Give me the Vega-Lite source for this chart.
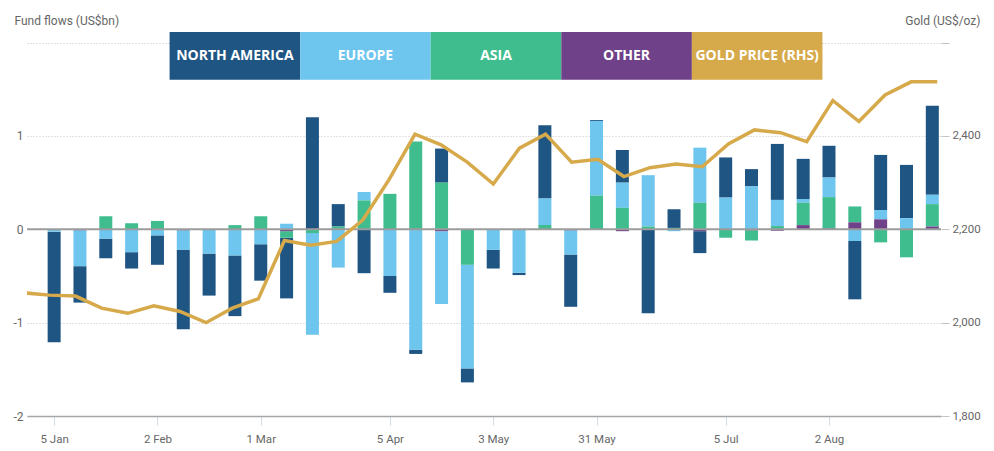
{
  "$schema": "https://vega.github.io/schema/vega-lite/v6.json",
  "width": 914,
  "height": 384,
  "autosize": {"type": "none"},
  "padding": {"left": 27, "top": 32, "right": 53, "bottom": 35},
  "background": "white",
  "config": {
    "view": {"stroke": null},
    "font": "Roboto, Liberation Sans, sans-serif"
  },
  "datasets": {
    "legend": [
      {"key": "na", "label": "NORTH AMERICA", "idx": 1},
      {"key": "eu", "label": "EUROPE", "idx": 2},
      {"key": "asia", "label": "ASIA", "idx": 3},
      {"key": "other", "label": "OTHER", "idx": 4},
      {"key": "gold", "label": "GOLD PRICE (RHS)", "idx": 5}
    ],
    "flows": [
      {"week": "2024-01-05", "na": -1.185, "eu": -0.025, "asia": 0, "other": 0},
      {"week": "2024-01-12", "na": -0.39, "eu": -0.385, "asia": 0, "other": -0.01},
      {"week": "2024-01-19", "na": -0.21, "eu": -0.1, "asia": 0.14, "other": 0},
      {"week": "2024-01-26", "na": -0.175, "eu": -0.245, "asia": 0.065, "other": 0},
      {"week": "2024-02-02", "na": -0.315, "eu": -0.065, "asia": 0.09, "other": 0},
      {"week": "2024-02-09", "na": -0.85, "eu": -0.21, "asia": 0, "other": -0.01},
      {"week": "2024-02-16", "na": -0.45, "eu": -0.26, "asia": 0, "other": 0},
      {"week": "2024-02-23", "na": -0.65, "eu": -0.28, "asia": 0.045, "other": 0},
      {"week": "2024-03-01", "na": -0.39, "eu": -0.16, "asia": 0.14, "other": 0},
      {"week": "2024-03-08", "na": -0.65, "eu": 0.06, "asia": -0.07, "other": -0.02},
      {"week": "2024-03-15", "na": 1.2, "eu": -1.09, "asia": -0.04, "other": 0},
      {"week": "2024-03-22", "na": 0.24, "eu": -0.41, "asia": 0.03, "other": 0},
      {"week": "2024-03-29", "na": -0.47, "eu": 0.09, "asia": 0.31, "other": 0},
      {"week": "2024-04-05", "na": -0.18, "eu": -0.5, "asia": 0.38, "other": 0},
      {"week": "2024-04-12", "na": -0.045, "eu": -1.29, "asia": 0.94, "other": 0},
      {"week": "2024-04-19", "na": 0.365, "eu": -0.78, "asia": 0.5, "other": -0.02},
      {"week": "2024-04-26", "na": -0.15, "eu": -1.11, "asia": -0.38, "other": 0},
      {"week": "2024-05-03", "na": -0.2, "eu": -0.22, "asia": 0, "other": 0},
      {"week": "2024-05-10", "na": -0.025, "eu": -0.465, "asia": 0, "other": 0},
      {"week": "2024-05-17", "na": 0.785, "eu": 0.285, "asia": 0.045, "other": 0},
      {"week": "2024-05-24", "na": -0.56, "eu": -0.26, "asia": 0, "other": -0.01},
      {"week": "2024-05-31", "na": 0.01, "eu": 0.8, "asia": 0.36, "other": 0},
      {"week": "2024-06-07", "na": 0.35, "eu": 0.27, "asia": 0.23, "other": -0.02},
      {"week": "2024-06-14", "na": -0.9, "eu": 0.55, "asia": 0.03, "other": 0},
      {"week": "2024-06-21", "na": 0.2, "eu": -0.02, "asia": 0.015, "other": 0},
      {"week": "2024-06-28", "na": -0.235, "eu": 0.59, "asia": 0.285, "other": -0.02},
      {"week": "2024-07-05", "na": 0.43, "eu": 0.34, "asia": -0.09, "other": 0},
      {"week": "2024-07-12", "na": 0.185, "eu": 0.46, "asia": -0.11, "other": -0.01},
      {"week": "2024-07-19", "na": 0.6, "eu": 0.28, "asia": 0.035, "other": -0.015},
      {"week": "2024-07-26", "na": 0.43, "eu": 0.04, "asia": 0.24, "other": 0.045},
      {"week": "2024-08-02", "na": 0.34, "eu": 0.21, "asia": 0.335, "other": 0.01},
      {"week": "2024-08-09", "na": -0.625, "eu": -0.125, "asia": 0.17, "other": 0.075},
      {"week": "2024-08-16", "na": 0.59, "eu": 0.1, "asia": -0.14, "other": 0.107},
      {"week": "2024-08-23", "na": 0.57, "eu": 0.12, "asia": -0.3, "other": 0},
      {"week": "2024-08-30", "na": 0.955, "eu": 0.1, "asia": 0.24, "other": 0.03}
    ],
    "gold": [
      {"week": "2023-12-29", "gold": 2064},
      {"week": "2024-01-05", "gold": 2059},
      {"week": "2024-01-12", "gold": 2057},
      {"week": "2024-01-19", "gold": 2031},
      {"week": "2024-01-26", "gold": 2020},
      {"week": "2024-02-02", "gold": 2036},
      {"week": "2024-02-09", "gold": 2024},
      {"week": "2024-02-16", "gold": 2000},
      {"week": "2024-02-23", "gold": 2031},
      {"week": "2024-03-01", "gold": 2051},
      {"week": "2024-03-08", "gold": 2176},
      {"week": "2024-03-15", "gold": 2166},
      {"week": "2024-03-22", "gold": 2174},
      {"week": "2024-03-29", "gold": 2220},
      {"week": "2024-04-05", "gold": 2306},
      {"week": "2024-04-12", "gold": 2404},
      {"week": "2024-04-19", "gold": 2381},
      {"week": "2024-04-26", "gold": 2344},
      {"week": "2024-05-03", "gold": 2297},
      {"week": "2024-05-10", "gold": 2374},
      {"week": "2024-05-17", "gold": 2404},
      {"week": "2024-05-24", "gold": 2344},
      {"week": "2024-05-31", "gold": 2350},
      {"week": "2024-06-07", "gold": 2313},
      {"week": "2024-06-14", "gold": 2332},
      {"week": "2024-06-21", "gold": 2340},
      {"week": "2024-06-28", "gold": 2334},
      {"week": "2024-07-05", "gold": 2383},
      {"week": "2024-07-12", "gold": 2413},
      {"week": "2024-07-19", "gold": 2407},
      {"week": "2024-07-26", "gold": 2388},
      {"week": "2024-08-02", "gold": 2476},
      {"week": "2024-08-09", "gold": 2431},
      {"week": "2024-08-16", "gold": 2488},
      {"week": "2024-08-23", "gold": 2516},
      {"week": "2024-08-30", "gold": 2516}
    ]
  },
  "layer": [
    {
      "data": {"name": "flows"},
      "transform": [
        {"fold": ["na", "eu", "asia", "other"], "as": ["key", "value"]},
        {"lookup": "key", "from": {"data": {"name": "legend"}, "key": "key", "fields": ["idx"]}}
      ],
      "mark": {"type": "bar", "size": 13},
      "encoding": {
        "x": {
          "field": "week",
          "type": "temporal",
          "scale": {
            "type": "utc",
            "domain": [
              {"year": 2023, "month": 12, "date": 30, "utc": true},
              {"year": 2024, "month": 8, "date": 31, "utc": true}
            ]
          },
          "axis": {
            "title": null,
            "values": [
              {"year": 2024, "month": 1, "date": 5, "utc": true},
              {"year": 2024, "month": 2, "date": 2, "utc": true},
              {"year": 2024, "month": 3, "date": 1, "utc": true},
              {"year": 2024, "month": 4, "date": 5, "utc": true},
              {"year": 2024, "month": 5, "date": 3, "utc": true},
              {"year": 2024, "month": 5, "date": 31, "utc": true},
              {"year": 2024, "month": 7, "date": 5, "utc": true},
              {"year": 2024, "month": 8, "date": 2, "utc": true}
            ],
            "format": "%-d %b",
            "grid": false,
            "labelColor": "#666666",
            "labelFontSize": 11.5,
            "labelPadding": 8,
            "labelFlush": false,
            "tickColor": "#d3dbe4",
            "tickSize": 9,
            "domainColor": "#a6a6a6",
            "domainWidth": 1.5
          }
        },
        "y": {
          "field": "value",
          "type": "quantitative",
          "stack": "zero",
          "scale": {"domain": [-2, 2.114], "nice": false, "zero": false},
          "axis": {
            "values": [-2, -1, 0, 1, 2],
            "labelExpr": "datum.value == 2 ? '' : '' + datum.value",
            "title": "Fund flows (US$bn)",
            "titleAngle": 0,
            "titleAlign": "left",
            "titleBaseline": "middle",
            "titleX": -13,
            "titleY": -12,
            "titleFontWeight": "normal",
            "titleFontSize": 12,
            "titleColor": "#666666",
            "labelColor": "#666666",
            "labelFontSize": 12,
            "labelPadding": 4,
            "ticks": false,
            "domain": false,
            "grid": true,
            "gridColor": "#c4c4c4",
            "gridDash": [1, 2]
          }
        },
        "color": {
          "field": "key",
          "type": "nominal",
          "scale": {
            "domain": ["na", "eu", "asia", "other", "gold"],
            "range": ["#1f5583", "#6ec5ee", "#40bd8f", "#6e4189", "#d6a94b"]
          },
          "legend": null
        },
        "order": {"field": "idx", "sort": "descending"}
      }
    },
    {
      "data": {"values": [{}]},
      "mark": {"type": "rule", "color": "#9c9c9c", "strokeWidth": 2},
      "encoding": {
        "y": {"datum": 0, "type": "quantitative", "scale": {"domain": [-2, 2.114], "nice": false, "zero": false}, "axis": null}
      }
    },
    {
      "data": {"name": "gold"},
      "mark": {"type": "line", "color": "#d6a94b", "strokeWidth": 3.5, "clip": true},
      "encoding": {
        "x": {
          "field": "week",
          "type": "temporal",
          "scale": {
            "type": "utc",
            "domain": [
              {"year": 2023, "month": 12, "date": 30, "utc": true},
              {"year": 2024, "month": 8, "date": 31, "utc": true}
            ]
          },
          "axis": null
        },
        "y": {
          "field": "gold",
          "type": "quantitative",
          "scale": {"domain": [1800, 2622.8], "nice": false, "zero": false},
          "axis": {
            "orient": "right",
            "values": [1800, 2000, 2200, 2400, 2600],
            "labelExpr": "datum.value == 2600 ? '' : format(datum.value, ',')",
            "title": "Gold (US$/oz)",
            "titleAngle": 0,
            "titleAlign": "right",
            "titleBaseline": "middle",
            "titleX": 39,
            "titleY": -12,
            "titleFontWeight": "normal",
            "titleFontSize": 12,
            "titleColor": "#666666",
            "labelColor": "#666666",
            "labelFontSize": 11.5,
            "labelPadding": 3,
            "ticks": true,
            "tickSize": 8,
            "tickColor": "#c4c4c4",
            "domain": false,
            "grid": false
          }
        }
      }
    },
    {
      "data": {"name": "legend"},
      "encoding": {
        "x": {
          "field": "label",
          "type": "nominal",
          "sort": {"field": "idx", "op": "min"},
          "scale": {"type": "band", "paddingInner": 0, "paddingOuter": 1.0045, "align": 0.546},
          "axis": null
        }
      },
      "layer": [
        {
          "mark": {"type": "rect"},
          "encoding": {
            "y": {"datum": 2.114, "type": "quantitative", "scale": {"domain": [-2, 2.114], "nice": false, "zero": false}, "axis": null},
            "y2": {"datum": 1.603},
            "color": {"field": "key", "type": "nominal", "legend": null}
          }
        },
        {
          "mark": {"type": "text", "color": "white", "font": "Open Sans", "fontWeight": "bold", "fontSize": 14, "baseline": "middle", "align": "center"},
          "encoding": {
            "y": {"datum": 1.857, "type": "quantitative"},
            "text": {"field": "label"}
          }
        }
      ]
    }
  ],
  "resolve": {"scale": {"x": "independent", "y": "independent", "color": "shared"}}
}
